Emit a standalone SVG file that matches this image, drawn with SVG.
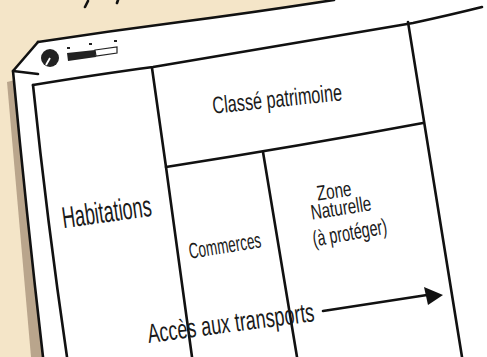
<svg xmlns="http://www.w3.org/2000/svg" width="487" height="357" viewBox="0 0 487 357">
<style>
.ln{fill:none;stroke:#111;stroke-width:2.6;stroke-linecap:round;stroke-linejoin:round}
.tx{font-family:"Liberation Sans","DejaVu Sans",sans-serif;fill:#1a1a1a;text-anchor:middle}
</style>
<rect width="487" height="357" fill="#F4E5C8"/>
<path class="ln" d="M88,1 L85,7" stroke-width="1.8"/>
<path class="ln" d="M118,0 L117,3" stroke-width="1.8"/>
<g id="paper">
<path d="M7,82 L15,80 L44,357 L31,357 Z" fill="#B9A58C"/>
<path d="M14,73 L39,75 L42,81 L16,80 Z" fill="#CFC2B0"/>
<path d="M38,42 Q120,30 250,12 L334,0 L487,0 L487,357 L43,357 Q25,210 13,71 Z" fill="#fff"/>
<path class="ln" d="M38,42 Q110,31 180,22 T334,0"/>
<path class="ln" d="M38,42 L13,71 Q26,210 43,357"/>
<path class="ln" d="M13,71 L38,74" stroke-width="1.4"/>
<circle cx="50" cy="58" r="9" fill="#222"/>
<path d="M50,58 L46,65" stroke="#fff" stroke-width="1.8"/>
<path d="M67,53 L95,50 L96,57 L68,61 Z" fill="#222"/>
<path d="M95,50 L117,47 L117,53 L96,56 Z" fill="#fff" stroke="#222" stroke-width="1.2"/>
<rect x="67" y="47" width="3" height="2" fill="#222"/>
<rect x="89" y="43" width="3" height="2" fill="#222"/>
<rect x="114" y="40" width="3" height="2" fill="#222"/>
<path class="ln" d="M33,85 Q100,74 153,67 Q300,42 413,23 Q450,15 482,7"/>
<path class="ln" d="M33,85 Q47,220 67,357"/>
<path class="ln" d="M408,22 L462,357"/>
</g>
<g id="habitations">
<path class="ln" d="M152,68 L166,167 L192,357"/>
<text class="tx" x="108" y="222" font-size="30" textLength="90" lengthAdjust="spacingAndGlyphs" transform="rotate(-8 108 222)">Habitations</text>
</g>
<g id="classe-patrimoine">
<path class="ln" d="M166,167 Q300,146 423,123"/>
<text class="tx" x="278" y="107" font-size="24" textLength="130" lengthAdjust="spacingAndGlyphs" transform="rotate(-6 278 107)">Classé patrimoine</text>
</g>
<g id="commerces">
<path class="ln" d="M263,152 L297,357"/>
<text class="tx" x="226" y="253" font-size="22" textLength="73" lengthAdjust="spacingAndGlyphs" transform="rotate(-9 226 253)">Commerces</text>
</g>
<g id="zone-naturelle">
<text class="tx" x="335" y="198" font-size="21" textLength="35" lengthAdjust="spacingAndGlyphs" transform="rotate(-8 335 198)">Zone</text>
<text class="tx" x="342" y="215" font-size="21" textLength="61" lengthAdjust="spacingAndGlyphs" transform="rotate(-9 342 215)">Naturelle</text>
<text class="tx" x="351" y="240" font-size="22" textLength="75" lengthAdjust="spacingAndGlyphs" transform="rotate(-10 351 240)">(à protéger)</text>
</g>
<g id="connectors">
<path class="ln" d="M323,311 Q380,302 427,295"/>
<path d="M424,287 L443,295 L428,305 Z" fill="#111"/>
</g>
<g id="acces-transports">
<text class="tx" x="232" y="332" font-size="27" textLength="168" lengthAdjust="spacingAndGlyphs" transform="rotate(-7.5 232 332)">Accès aux transports</text>
</g>
</svg>
